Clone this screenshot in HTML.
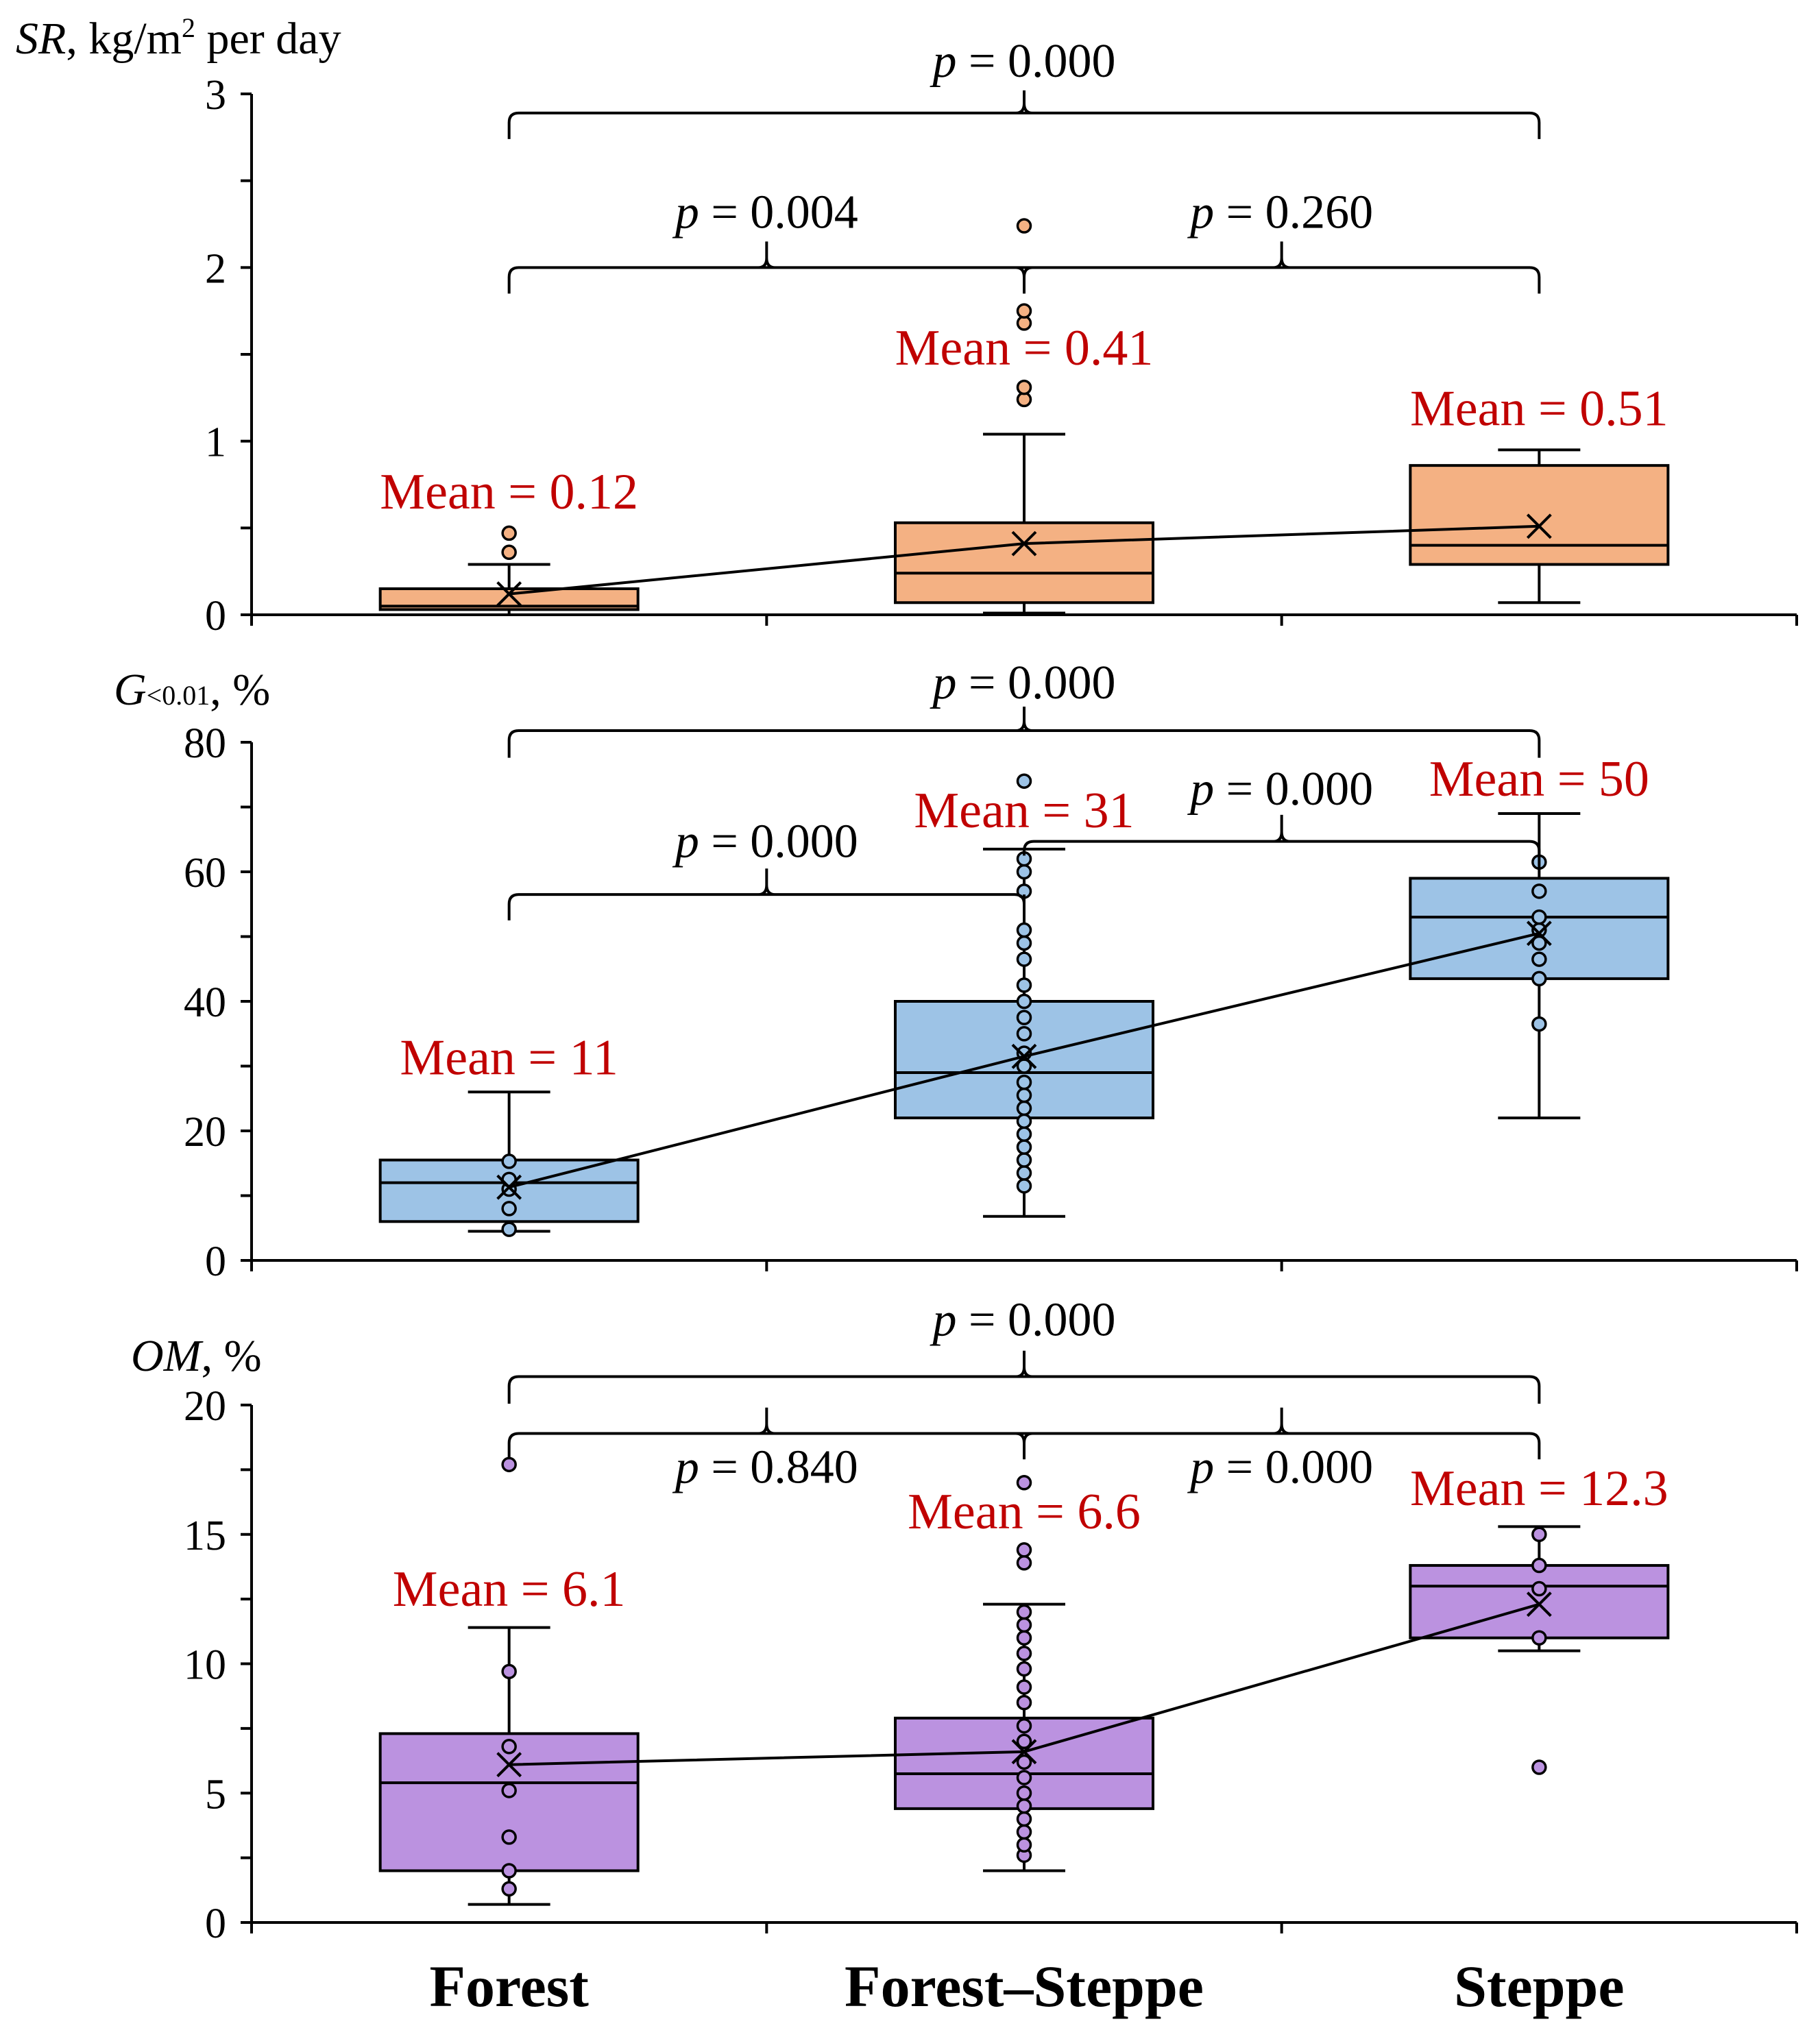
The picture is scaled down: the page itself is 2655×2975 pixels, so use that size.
<!DOCTYPE html>
<html><head><meta charset="utf-8"><style>
html,body{margin:0;padding:0;background:#fff}
svg{display:block}
text{font-family:"Liberation Serif",serif}
</style></head><body>
<svg id="chart" width="2655" height="2975" viewBox="0 0 2655 2975" xmlns="http://www.w3.org/2000/svg"></svg>
<script>
const categories = ["Forest", "Forest–Steppe", "Steppe"];
// Panel 1: SR
const srQ1 = [0.03, 0.07, 0.29];
const srMedian = [0.05, 0.24, 0.40];
const srQ3 = [0.15, 0.53, 0.86];
const srWhiskLo = [0.0, 0.01, 0.07];
const srWhiskHi = [0.29, 1.04, 0.95];
const srMean = [0.12, 0.41, 0.51];
const srMeanLabels = ["Mean = 0.12", "Mean = 0.41", "Mean = 0.51"];
const srPoints = [[0.36, 0.47], [1.24, 1.31, 1.68, 1.75, 2.24], []];
const srTicks = ["0", "1", "2", "3"];
const srP = ["p = 0.004", "p = 0.260", "p = 0.000"];
// Panel 2: G<0.01
const gQ1 = [6, 22, 43.5];
const gMedian = [12, 29, 53];
const gQ3 = [15.5, 40, 59];
const gWhiskLo = [4.5, 6.8, 22];
const gWhiskHi = [26, 63.5, 69];
const gMean = [11.3, 31.5, 50.5];
const gMeanLabels = ["Mean = 11", "Mean = 31", "Mean = 50"];
const gPoints = [[4.8, 8, 11, 12.5, 15.3],
  [11.5, 13.5, 15.5, 17.5, 19.5, 21.5, 23.5, 25.5, 27.5, 30, 32, 35, 37.5, 40, 42.5, 46.5, 49, 51, 57, 60, 62, 74],
  [36.5, 43.5, 46.5, 49, 51, 53, 57, 61.5]];
const gTicks = ["0", "20", "40", "60", "80"];
const gP = ["p = 0.000", "p = 0.000", "p = 0.000"];
// Panel 3: OM
const omQ1 = [2.0, 4.4, 11.0];
const omMedian = [5.4, 5.75, 13.0];
const omQ3 = [7.3, 7.9, 13.8];
const omWhiskLo = [0.7, 2.0, 10.5];
const omWhiskHi = [11.4, 12.3, 15.3];
const omMean = [6.1, 6.6, 12.3];
const omMeanLabels = ["Mean = 6.1", "Mean = 6.6", "Mean = 12.3"];
const omPoints = [[1.3, 2.0, 3.3, 5.1, 6.8, 9.7, 17.7],
  [2.6, 3.0, 3.5, 4.0, 4.5, 5.0, 5.6, 6.2, 7.0, 7.6, 8.5, 9.1, 9.8, 10.4, 11.0, 11.5, 12.0, 13.9, 14.4, 17.0],
  [6.0, 11.0, 12.9, 13.8, 15.0]];
const omTicks = ["0", "5", "10", "15", "20"];
const omP = ["p = 0.840", "p = 0.000", "p = 0.000"];

const NS = "http://www.w3.org/2000/svg";
const svg = document.getElementById("chart");
const XL = 367, XR = 2621;
const xBand = (XR - XL) / 3;
function xc(i){ return XL + xBand * (i + 0.5); }
function el(tag, attrs, parent){
  const e = document.createElementNS(NS, tag);
  for (const k in attrs) e.setAttribute(k, attrs[k]);
  (parent || svg).appendChild(e);
  return e;
}

function panel(cfg){
  const g = el("g", {});
  
  
  const y = v => cfg.y0 - (v - 0) / cfg.max * (cfg.y0 - cfg.yTop);
  const ax = el("path", {d:`M${XL},${cfg.yTop} V${cfg.y0} H${XR}`, stroke:"#000", "stroke-width":4, fill:"none"}, g);
  
  
  for (let i = 0; i <= 3; i++) {
    const t = el("line", {x1:XL + xBand*i, x2:XL + xBand*i, y1:cfg.y0, y2:cfg.y0+16, stroke:"#000", "stroke-width":4}, g);
    
    
  }
  const nMinor = Math.round(cfg.max / cfg.minor);
  for (let i = 0; i <= nMinor; i++) {
    const t = el("line", {x1:XL-16, x2:XL, y1:y(i*cfg.minor), y2:y(i*cfg.minor), stroke:"#000", "stroke-width":4}, g);
    
    
  }
  cfg.ticks.forEach((lab, i) => {
    const v = i * cfg.max / (cfg.ticks.length - 1);
    const t = el("text", {x:330, y:y(v)+22, "text-anchor":"end", "font-size":62, fill:"#000"}, g);
    t.textContent = lab;
    
    
  });
  const tt = el("text", {x:cfg.titleX, y:cfg.titleY, "font-size":66, fill:"#000"}, g);
  tt.innerHTML = cfg.title;
  
  
  for (let i = 0; i < 3; i++) {
    const cx = xc(i), hw = cfg.hw || 188, cw = 60;
    const bg = el("g", {}, g);
    
    
    el("line", {x1:cx, x2:cx, y1:y(cfg.wlo[i]), y2:y(cfg.whi[i]), stroke:"#000", "stroke-width":4}, bg);
    el("line", {x1:cx-cw, x2:cx+cw, y1:y(cfg.wlo[i]), y2:y(cfg.wlo[i]), stroke:"#000", "stroke-width":4}, bg);
    el("line", {x1:cx-cw, x2:cx+cw, y1:y(cfg.whi[i]), y2:y(cfg.whi[i]), stroke:"#000", "stroke-width":4}, bg);
    el("rect", {x:cx-hw, y:y(cfg.q3[i]), width:2*hw, height:y(cfg.q1[i])-y(cfg.q3[i]), fill:cfg.fill, stroke:"#000", "stroke-width":4}, bg);
    el("line", {x1:cx-hw, x2:cx+hw, y1:y(cfg.med[i]), y2:y(cfg.med[i]), stroke:"#000", "stroke-width":4}, bg);
    cfg.pts[i].forEach(v => {
      const c = el("circle", {cx:cx, cy:y(v), r:9.5, fill:cfg.fill, stroke:"#000", "stroke-width":3.5}, bg);
      
      
    });
  }
  const ml = el("polyline", {points: cfg.mean.map((m,i)=>`${xc(i)},${y(m)}`).join(" "), fill:"none", stroke:"#000", "stroke-width":4}, g);
  
  
  cfg.mean.forEach((m, i) => {
    const s = 17, cx = xc(i), cy = y(m);
    const mk = el("path", {d:`M${cx-s},${cy-s} L${cx+s},${cy+s} M${cx-s},${cy+s} L${cx+s},${cy-s}`, stroke:"#000", "stroke-width":4, fill:"none"}, g);
    
    
    const t = el("text", {x:cx, y:y(cfg.meanLabY[i])+25, "text-anchor":"middle", "font-size":74, fill:"#C00000"}, g);
    t.textContent = cfg.meanLabels[i];
    
    
  });
  cfg.brackets.forEach(b => {
    const yb = y(b.y), ye = y(b.end), r = 14;
    let d = `M${b.x1},${ye} V${yb+r} Q${b.x1},${yb} ${b.x1+r},${yb} H${b.x2-r} Q${b.x2},${yb} ${b.x2},${yb+r} V${y(b.end2!==undefined?b.end2:b.end)}`;
    (b.peaks||[]).forEach(p => { d += ` M${p.x-12},${yb} Q${p.x},${yb} ${p.x},${yb-14} V${y(p.v)}`; d += ` M${p.x+12},${yb} Q${p.x},${yb} ${p.x},${yb-14}`; });
    (b.dips||[]).forEach(p => { d += ` M${p.x-12},${yb} Q${p.x},${yb} ${p.x},${yb+14} V${y(p.v)}`; d += ` M${p.x+12},${yb} Q${p.x},${yb} ${p.x},${yb+14}`; });
    const br = el("path", {d:d, stroke:"#000", "stroke-width":4, fill:"none"}, g);
    
    
  });
  cfg.pLabels.forEach(p => {
    const t = el("text", {x:p.x, y:y(p.v)+23, "text-anchor":"middle", "font-size":70, fill:"#000"}, g);
    t.innerHTML = '<tspan font-style="italic">p</tspan> = ' + p.t.replace('p = ','');
    
    
  });
}

const b1 = XL + xBand, b2 = XL + 2*xBand;
panel({name:"sr", y0:897, yTop:137, max:3, minor:0.5, ticks:srTicks, fill:"#F4B183",
  title:'<tspan font-style="italic">SR</tspan>, kg/m<tspan font-size="40" dy="-24">2</tspan><tspan dy="24"> per day</tspan>', titleX:23, titleY:78,
  q1:srQ1, med:srMedian, q3:srQ3, wlo:srWhiskLo, whi:srWhiskHi, mean:srMean, pts:srPoints,
  meanLabels:srMeanLabels, meanLabY:[0.71, 1.54, 1.19],
  brackets:[{x1:xc(0), x2:xc(2), y:2.89, end:2.74, peaks:[{x:xc(1), v:3.02}]},
            {x1:xc(0), x2:xc(2), y:2.0, end:1.85, peaks:[{x:b1, v:2.15},{x:b2, v:2.15}], dips:[{x:xc(1), v:1.85}]}],
  pLabels:[{x:xc(1), v:3.19, t:srP[2]}, {x:b1, v:2.32, t:srP[0]}, {x:b2, v:2.32, t:srP[1]}]});
panel({name:"g", y0:1839, yTop:1083, max:80, minor:10, ticks:gTicks, fill:"#9DC3E6",
  title:'<tspan font-style="italic">G</tspan><tspan font-size="40">&lt;0.01</tspan>, %', titleX:166, titleY:1028,
  q1:gQ1, med:gMedian, q3:gQ3, wlo:gWhiskLo, whi:gWhiskHi, mean:gMean, pts:gPoints,
  meanLabels:gMeanLabels, meanLabY:[31.4, 69.5, 74.4],
  brackets:[{x1:xc(0), x2:xc(2), y:81.8, end:77.6, peaks:[{x:xc(1), v:85.5}]},
            {x1:xc(0), x2:xc(1), y:56.5, end:52.5, end2:56.5, peaks:[{x:b1, v:60.5}]},
            {x1:xc(1), x2:xc(2), y:64.7, end:62.5, end2:60.5, peaks:[{x:b2, v:68.8}]}],
  pLabels:[{x:xc(1), v:89.2, t:gP[2]}, {x:b1, v:64.7, t:gP[0]}, {x:b2, v:72.8, t:gP[1]}]});
panel({name:"om", y0:2805, yTop:2050, max:20, minor:2.5, ticks:omTicks, fill:"#BB92E0", hw:188,
  title:'<tspan font-style="italic">OM</tspan>, %', titleX:191, titleY:2000,
  q1:omQ1, med:omMedian, q3:omQ3, wlo:omWhiskLo, whi:omWhiskHi, mean:omMean, pts:omPoints,
  meanLabels:omMeanLabels, meanLabY:[12.9, 15.9, 16.8],
  brackets:[{x1:xc(0), x2:xc(2), y:21.1, end:20.05, peaks:[{x:xc(1), v:22.1}]},
            {x1:xc(0), x2:xc(2), y:18.9, end:17.9, peaks:[{x:b1, v:19.9},{x:b2, v:19.9}], dips:[{x:xc(1), v:17.9}]}],
  pLabels:[{x:xc(1), v:23.3, t:omP[2]}, {x:b1, v:17.6, t:omP[0]}, {x:b2, v:17.6, t:omP[1]}]});

categories.forEach((c, i) => {
  const t = el("text", {x:xc(i), y:2927, "text-anchor":"middle", "font-size":86, "font-weight":"bold", fill:"#000"});
  t.textContent = c;
  
  
});
</script>
</body></html>
